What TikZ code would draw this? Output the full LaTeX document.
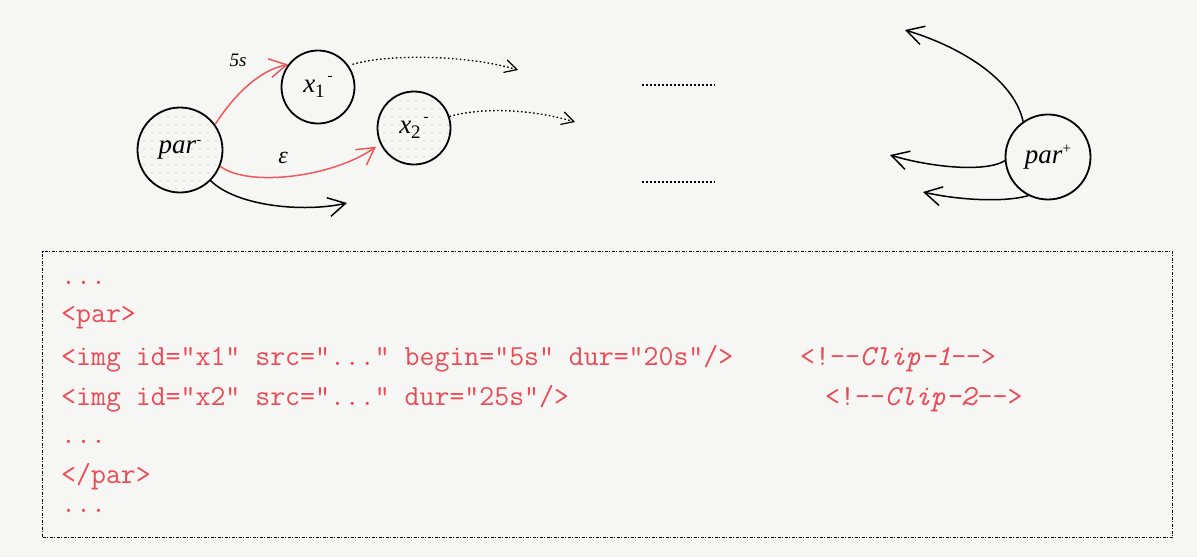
\documentclass[tikz,border=0pt]{standalone}
\usepackage{fontspec}
\setmainfont{Liberation Serif}
\usetikzlibrary{arrows.meta,patterns.meta}

\definecolor{paper}{RGB}{246,246,245}
\definecolor{linkred}{RGB}{240,88,92}
\definecolor{codered}{RGB}{236,74,84}

% small raised / lowered marks next to a state name
\newcommand\supmark[2]{\raisebox{#1}{\fontsize{15}{15}\selectfont #2}}
\newcommand\submark[1]{\raisebox{-5pt}{\fontsize{19}{19}\selectfont #1}}

\begin{document}
\begin{tikzpicture}[x=1pt,y=-1pt,
  state/.style={circle,draw=black,line width=1.8pt,inner sep=0pt,
    font=\fontsize{27}{30}\selectfont},
  bigstate/.style={state,minimum size=85pt},
  smallstate/.style={state,minimum size=73pt},
  speckled/.style={pattern={Dots[distance=8pt,radius=0.55pt]},pattern color=gray!55},
  barb/.style={-{Straight Barb[length=17pt,width=19pt,line width=1.5pt]}},
  smallbarb/.style={-{Straight Barb[length=12pt,width=13pt,line width=1.2pt]}},
  solidlink/.style={barb,line width=1.5pt},
  redlink/.style={solidlink,draw=linkred},
  dotlink/.style={smallbarb,line width=1.3pt,dash pattern=on 1.6pt off 2.4pt},
  gap/.style={line width=1.3pt,dash pattern=on 1.6pt off 2.4pt},
  codeline/.style={anchor=base west,inner sep=0pt,text=codered,
    font=\fontsize{29}{32}\selectfont\ttfamily},
  edgelabel/.style={inner sep=0pt,font=\itshape}]

% page
\fill[paper] (0,0) rectangle (1197,557);
\useasboundingbox (0,0) rectangle (1197,557);

% states
\node[bigstate,speckled] (parm) at (180,150) {\textit{par}\supmark{9pt}{-}};
\node[smallstate] (x1) at (318,87) {\textit{x}\submark{1}\hspace{3pt}\supmark{12pt}{-}};
\node[smallstate,speckled] (x2) at (414,128) {\textit{x}\submark{2}\hspace{3pt}\supmark{12pt}{-}};
\node[bigstate] (parp) at (1048,157) {\textit{par}\supmark{10pt}{+}};

% free ends of the open connectors
\coordinate (e1) at (347,203);
\coordinate (d1) at (518,70);
\coordinate (d2) at (575,122);
\coordinate (p1) at (905,30);
\coordinate (p2) at (890,155);
\coordinate (p3) at (923,192);

% transitions out of par-
\draw[redlink] (parm.36) .. controls +(18,-28) and +(-30,6) .. (x1.143);
\draw[redlink,shorten >=5pt] (parm.-22) .. controls +(27,21) and +(-48,34) .. (x2.205);
\draw[solidlink] (parm.-45) .. controls +(25,25) and +(-45,10) .. (e1);
\node[edgelabel,font=\fontsize{19}{20}\selectfont\itshape] (l5s) at (238,60) {5s};
\node[edgelabel,font=\fontsize{24}{26}\selectfont\itshape] (leps) at (283,158) {ε};

% continuations of the clips
\draw[dotlink,shorten <=4pt] (x1.35) .. controls +(40,-12) and +(-50,-15) .. (d1);
\draw[dotlink] (x2.18) .. controls +(35,-10) and +(-40,-12) .. (d2);

% elided middle part
\coordinate (g1a) at (642,85);
\coordinate (g1b) at (715,85);
\coordinate (g2a) at (642,182);
\coordinate (g2b) at (715,182);
\draw[gap] (g1a) -- (g1b);
\draw[gap] (g2a) -- (g2b);

% transitions into par+
\draw[solidlink] (parp.125) .. controls +(-10,-45) and +(50,15) .. (p1);
\draw[solidlink] (parp.185) .. controls +(-20,12) and +(40,12) .. (p2);
\draw[solidlink] (parp.-117) .. controls +(-25,7) and +(35,8) .. (p3);

% source listing
\node[draw=black,line width=1.2pt,dash pattern=on 3pt off 1.5pt on 1pt off 1.5pt,
  minimum width=1130pt,minimum height=286pt,anchor=north west,inner sep=0pt]
  (frame) at (42,251) {};
\node[codeline] (c1) at (61,284) {...};
\node[codeline] (c2) at (61,322) {<par>};
\node[codeline] (c3) at (61,365) {<img id="x1" src="..." begin="5s" dur="20s"/>};
\node[codeline] (c3c) at (800,365) {<!--\textit{Clip-1}-->};
\node[codeline] (c4) at (61,405) {<img id="x2" src="..." dur="25s"/>};
\node[codeline] (c4c) at (825,405) {<!--\textit{Clip-2}-->};
\node[codeline] (c5) at (61,443) {...};
\node[codeline] (c6) at (61,483) {</par>};
\node[codeline] (c7) at (61,512) {...};
\end{tikzpicture}
\end{document}
